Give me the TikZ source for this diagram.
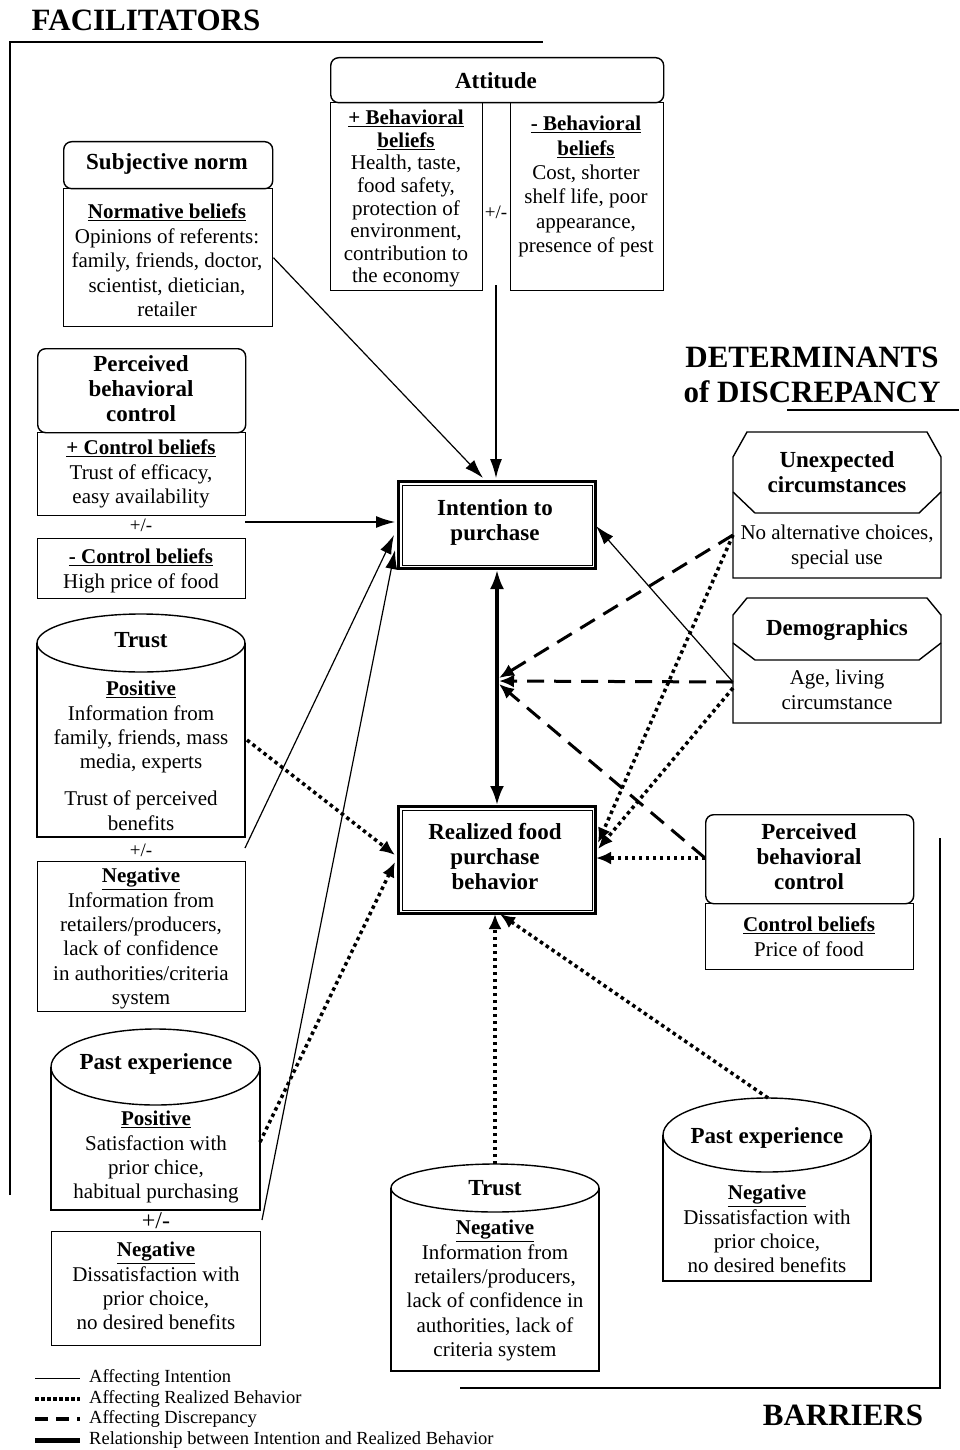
\documentclass[tikz,border=0pt]{standalone}
\usepackage{fontspec}
\setmainfont{Liberation Serif}
\usetikzlibrary{arrows.meta,calc}
\newcommand\bodfont{\fontsize{21}{24.4}\selectfont}
\newcommand\ttlfont{\bfseries\fontsize{23}{25}\selectfont}
\newcommand\bigfont{\bfseries\fontsize{31}{35}\selectfont}
\newcommand\legfont{\fontsize{18.5}{20}\selectfont}
\newcommand\ub[1]{\underline{\textbf{#1}}}
\tikzset{
  box/.style={draw, line width=1.4pt, inner sep=0pt, anchor=north west},
  hdr/.style={box, rounded corners=8pt, fill=white},
  ln/.style={line width=1.4pt},
  ttl/.style={font=\ttlfont, align=center, inner sep=0pt},
  bod/.style={font=\bodfont, align=center, inner sep=0pt, anchor=north},
  pm/.style={font=\fontsize{19}{20}\selectfont, inner sep=0pt},
  ref/.style={inner sep=0pt, anchor=north west},
  solidarr/.style={-{Latex[length=19pt,width=12pt]}, line width=1.2pt},
  dotarr/.style={-{Latex[length=15pt,width=13pt]}, line width=3.5pt, dash pattern=on 3.5pt off 3.5pt},
  dasharr/.style={-{Latex[length=15pt,width=13pt]}, line width=3pt, dash pattern=on 17pt off 10pt},
  thickarr/.style={{Latex[length=19pt,width=14pt]}-{Latex[length=19pt,width=14pt]}, line width=3.2pt},
  bracket/.style={line width=1.3pt}
}
\begin{document}
\begin{tikzpicture}[x=1pt,y=-1pt]
\fill[white] (0,0) rectangle (959,1450);
\useasboundingbox (0,0) rectangle (959,1450);

% ---------- headings and brackets
\node[font=\bigfont, inner sep=0pt] (fac) at (146,20) {FACILITATORS};
\coordinate (facA) at (10,1195);
\coordinate (facB) at (10,42);
\coordinate (facC) at (543,42);
\draw[bracket] (facA) -- (facB) -- (facC);

\node[font=\bigfont, align=center, inner sep=0pt] (det) at (812,375) {DETERMINANTS\\of DISCREPANCY};
\coordinate (detA) at (787,410);
\coordinate (detB) at (959,410);
\draw[bracket] (detA) -- (detB);

\node[font=\bigfont, inner sep=0pt] (bar) at (843,1415) {BARRIERS};
\coordinate (barA) at (460,1388);
\coordinate (barB) at (940,1388);
\coordinate (barC) at (940,838);
\draw[bracket] (barA) -- (barB) -- (barC);

% ---------- Subjective norm
\node[box, minimum width=209pt, minimum height=138pt] (snb) at (63,188) {};
\node[hdr, minimum width=209pt, minimum height=47pt] (snh) at (63,141) {};
\node[ttl] (snt) at (167,164) {Subjective norm};
\node[bod] (snx) at (167,204) {\ub{Normative beliefs}\\Opinions of referents:\\family, friends, doctor,\\scientist, dietician,\\retailer};

% ---------- Attitude
\node[box, minimum width=152pt, minimum height=188pt] (attl) at (330,102) {};
\node[box, minimum width=153pt, minimum height=188pt] (attr) at (510,102) {};
\node[hdr, minimum width=333pt, minimum height=45pt] (atth) at (330,57) {};
\node[ttl] (attt) at (496,81) {Attitude};
\node[bod, font=\fontsize{21}{22.6}\selectfont] (attlx) at (406,110) {\ub{+ Behavioral}\\\ub{beliefs}\\Health, taste,\\food safety,\\protection of\\environment,\\contribution to\\the economy};
\node[bod] (attrx) at (586,116) {\ub{- Behavioral}\\\ub{beliefs}\\Cost, shorter\\shelf life, poor\\appearance,\\presence of pest};
\node[pm] (attpm) at (496,212) {+/-};
\coordinate (attout) at (496,285);

% ---------- Perceived behavioral control (left)
\node[box, minimum width=208pt, minimum height=83pt] (pbcb) at (37,432) {};
\node[hdr, minimum width=208pt, minimum height=84pt] (pbch) at (37,348) {};
\node[ttl] (pbct) at (141,389) {Perceived\\behavioral\\control};
\node[bod] (pbcx) at (141,440) {\ub{+ Control beliefs}\\Trust of efficacy,\\easy availability};
\node[pm] (pbcpm) at (141,525) {+/-};
\node[box, minimum width=208pt, minimum height=60pt] (ncb) at (37,538) {};
\node[bod] (ncx) at (141,549) {\ub{- Control beliefs}\\High price of food};
\coordinate (pbcout) at (245,522);

% ---------- Trust (left)
\node[ref, minimum width=208pt, minimum height=223pt] (trl) at (37,614) {};
\draw[ln] (37,643) -- (37,837) -- (245,837) -- (245,643);
\draw[ln] (141,643) ellipse [x radius=104, y radius=29];
\node[ttl] (trlt) at (141,640) {Trust};
\node[bod] (trlx) at (141,681) {\ub{Positive}\\Information from\\family, friends, mass\\media, experts\\[12.5pt]Trust of perceived\\benefits};
\node[pm] (trlpm) at (141,850) {+/-};
\node[box, minimum width=208pt, minimum height=150pt] (trn) at (37,861) {};
\node[bod] (trnx) at (141,868) {\ub{Negative}\\Information from\\retailers/producers,\\lack of confidence\\in authorities/criteria\\system};
\coordinate (trlout) at (245,848);
\coordinate (trldot) at (247,740);

% ---------- Past experience (left)
\node[ref, minimum width=209pt, minimum height=181pt] (pel) at (51,1029) {};
\draw[ln] (51,1067) -- (51,1210) -- (260,1210) -- (260,1067);
\draw[ln] (155.5,1067) ellipse [x radius=104.5, y radius=38];
\node[ttl] (pelt) at (156,1064) {Past experience};
\node[bod] (pelx) at (156,1111) {\ub{Positive}\\Satisfaction with\\prior chice,\\habitual purchasing};
\node[font=\fontsize{24}{24}\selectfont, inner sep=0pt] (pelpm) at (156,1221) {+/-};
\node[box, minimum width=209pt, minimum height=114pt] (pen) at (51,1231) {};
\node[bod] (penx) at (156,1242) {\ub{Negative}\\Dissatisfaction with\\prior choice,\\no desired benefits};
\coordinate (pelout) at (262,1220);
\coordinate (peldot) at (260,1142);

% ---------- Intention and Realized
\node[box, line width=3pt, minimum width=197pt, minimum height=87pt] (int) at (397,480) {};
\draw[line width=1pt] ($(int.north west)+(5,5)$) rectangle ($(int.south east)+(-5,-5)$);
\node[ttl] (intt) at (495,522) {Intention to\\purchase};
\node[box, line width=3pt, minimum width=197pt, minimum height=107pt] (rea) at (397,805) {};
\draw[line width=1pt] ($(rea.north west)+(5,5)$) rectangle ($(rea.south east)+(-5,-5)$);
\node[ttl] (reat) at (495,857) {Realized food\\purchase\\behavior};

% ---------- Unexpected circumstances
\node[inner sep=0pt, minimum width=208pt, minimum height=146pt] (unx) at (837,505) {};
\draw[ln] (733,457) -- (747,432) -- (927,432) -- (941,457) -- (941,578) -- (733,578) -- cycle;
\draw[ln] (733,492) -- (755,513) -- (919,513) -- (941,492);
\node[ttl] (unxt) at (837,472) {Unexpected\\circumstances};
\node[bod] (unxx) at (837,525) {No alternative choices,\\special use};
\coordinate (unxout) at (733,535);

% ---------- Demographics
\node[inner sep=0pt, minimum width=208pt, minimum height=125pt] (dem) at (837,660.5) {};
\draw[ln] (733,615) -- (747,598) -- (927,598) -- (941,615) -- (941,723) -- (733,723) -- cycle;
\draw[ln] (733,643) -- (755,660) -- (919,660) -- (941,643);
\node[ttl] (demt) at (837,630) {Demographics};
\node[bod] (demx) at (837,670) {Age, living\\circumstance};
\coordinate (demout) at (733,682);
\coordinate (demdot) at (733,688);

% ---------- Perceived behavioral control (right)
\node[box, minimum width=208pt, minimum height=66pt] (pbrb) at (705,903) {};
\node[hdr, minimum width=208pt, minimum height=89pt] (pbrh) at (705,814) {};
\node[ttl] (pbrt) at (809,857) {Perceived\\behavioral\\control};
\node[bod] (pbrx) at (809,917) {\ub{Control beliefs}\\Price of food};
\coordinate (pbrout) at (705,858);

% ---------- Trust (bottom)
\node[ref, minimum width=208pt, minimum height=207pt] (trb) at (391,1164) {};
\draw[ln] (391,1188) -- (391,1371) -- (599,1371) -- (599,1188);
\draw[ln] (495,1188) ellipse [x radius=104, y radius=24];
\node[ttl] (trbt) at (495,1188) {Trust};
\node[bod] (trbx) at (495,1220) {\ub{Negative}\\Information from\\retailers/producers,\\lack of confidence in\\authorities, lack of\\criteria system};
\coordinate (trbout) at (495,1164);

% ---------- Past experience (right)
\node[ref, minimum width=208pt, minimum height=183pt] (per) at (663,1098) {};
\draw[ln] (663,1135) -- (663,1281) -- (871,1281) -- (871,1135);
\draw[ln] (767,1135) ellipse [x radius=104, y radius=37];
\node[ttl] (pert) at (767,1138) {Past experience};
\node[bod] (perx) at (767,1185) {\ub{Negative}\\Dissatisfaction with\\prior choice,\\no desired benefits};
\coordinate (perout) at (768,1098);

% ---------- target points
\coordinate (intSN) at (483,478);
\coordinate (intAT) at (496,478);
\coordinate (intPB) at (395,522);
\coordinate (intTR) at (394,535);
\coordinate (intPE) at (395,550);
\coordinate (intDE) at (596,526);
\coordinate (reaTR) at (395,855);
\coordinate (reaPE) at (395,862);
\coordinate (reaUX) at (598,843);
\coordinate (reaDE) at (598,849);
\coordinate (reaPB) at (596,858);
\coordinate (reaTB) at (495,914);
\coordinate (reaPR) at (500,914);
\coordinate (junA) at (499,678);
\coordinate (junB) at (499,681);
\coordinate (junC) at (499,684);

% ---------- connectors: intention
\draw[solidarr] (snb.east) -- (intSN);
\draw[solidarr] (attout) -- (intAT);
\draw[solidarr] (pbcout) -- (intPB);
\draw[solidarr] (trlout) -- (intTR);
\draw[solidarr] (pelout) -- (intPE);
\draw[solidarr] (demout) -- (intDE);

% ---------- connectors: realized behavior
\draw[dotarr] (trldot) -- (reaTR);
\draw[dotarr] (peldot) -- (reaPE);
\draw[dotarr] (unxout) -- (reaUX);
\draw[dotarr] (demdot) -- (reaDE);
\draw[dotarr] (pbrout) -- (reaPB);
\draw[dotarr] (trbout) -- (reaTB);
\draw[dotarr] (perout) -- (reaPR);

% ---------- connectors: discrepancy
\draw[dasharr] (unxout) -- (junA);
\draw[dasharr] (demout) -- (junB);
\draw[dasharr] (pbrout) -- (junC);

% ---------- intention <-> realized
\draw[thickarr] (int.south) -- (rea.north);

% ---------- legend
\coordinate (l1a) at (35,1378); \coordinate (l1b) at (80,1378);
\coordinate (l2a) at (35,1399); \coordinate (l2b) at (80,1399);
\coordinate (l3a) at (35,1419); \coordinate (l3b) at (80,1419);
\coordinate (l4a) at (35,1440); \coordinate (l4b) at (80,1440);
\draw[line width=1pt] (l1a) -- (l1b);
\draw[line width=4pt, dash pattern=on 4pt off 2pt] (l2a) -- (l2b);
\draw[line width=3.5pt, dash pattern=on 13pt off 8pt] (l3a) -- (l3b);
\draw[line width=5pt] (l4a) -- (l4b);
\node[font=\legfont, anchor=west, inner sep=0pt] (lt1) at (89,1378) {Affecting Intention};
\node[font=\legfont, anchor=west, inner sep=0pt] (lt2) at (89,1399) {Affecting Realized Behavior};
\node[font=\legfont, anchor=west, inner sep=0pt] (lt3) at (89,1419) {Affecting Discrepancy};
\node[font=\legfont, anchor=west, inner sep=0pt] (lt4) at (89,1440) {Relationship between Intention and Realized Behavior};
\end{tikzpicture}
\end{document}
